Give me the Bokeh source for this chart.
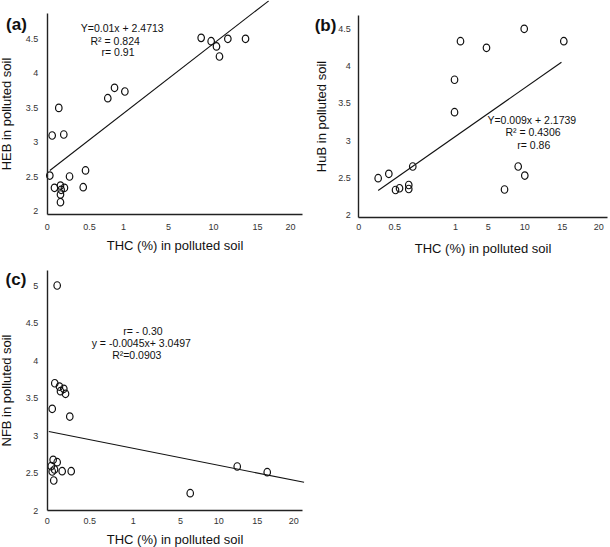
import numpy as np
from bokeh.plotting import figure
from bokeh.models import FixedTicker, CustomJSTickFormatter, Label, Range1d
from bokeh.layouts import column, row
from bokeh.embed import file_html
from bokeh.resources import INLINE

# ---------------- data ----------------
TICK_VALUES = [0, 0.5, 1, 5, 10, 15, 20]
TICK_LABELS = ["0", "0.5", "1", "5", "10", "15", "20"]
Y_TICKS_AB = [2, 2.5, 3, 3.5, 4, 4.5]
Y_TICKS_C = [2, 2.5, 3, 3.5, 4, 4.5, 5]

# (a) HEB vs THC
A_THC = [0.031, 0.059, 0.137, 0.196, 0.086, 0.157, 0.165, 0.204, 0.157, 0.157, 0.264,
         0.426, 0.453, 0.769, 0.868, 1.12, 8.63, 9.74, 10.34, 10.68, 11.63, 13.64]
A_HEB = [2.52, 3.10, 3.50, 3.115, 2.343, 2.376, 2.314, 2.343, 2.246, 2.135, 2.507,
         2.352, 2.594, 3.640, 3.791, 3.737, 4.514, 4.465, 4.389, 4.244, 4.500, 4.500]
A_FIT_THC = [0.031, 16.7]
A_FIT_Y = [2.594, 5.05]

# (b) HuB vs THC
B_THC = [0.269, 0.417, 0.506, 0.539, 0.615, 0.615, 0.648, 0.992, 0.992, 1.61, 4.79,
         7.23, 9.10, 10.0, 9.92, 15.22]
B_HUB = [2.499, 2.558, 2.341, 2.365, 2.408, 2.355, 2.656, 3.383, 3.817, 4.333, 4.245,
         2.348, 2.656, 2.535, 4.499, 4.333]
B_FIT_THC = [0.269, 14.9]
B_FIT_Y = [2.335, 4.052]

# (c) NFB vs THC
C_THC = [0.117, 0.089, 0.144, 0.156, 0.195, 0.215, 0.059, 0.265, 0.070, 0.117, 0.047,
         0.086, 0.059, 0.176, 0.282, 0.077, 6.27, 12.40, 16.37]
C_NFB = [5.0, 3.697, 3.653, 3.591, 3.623, 3.556, 3.356, 3.253, 2.676, 2.644, 2.591,
         2.547, 2.52, 2.524, 2.524, 2.40, 2.231, 2.587, 2.511]
C_FIT_THC = [0.019, 21.4]
C_FIT_Y = [3.053, 2.376]

# ---------------- layout / style ----------------
FONT = "Liberation Sans"
# on-screen positions of the (non-linear) THC ticks along each x axis
POS_A = [0, 42.3, 76.3, 121.3, 166.3, 210.3, 243.3]
POS_B = [0, 36, 96.7, 129.4, 166, 203.4, 240]
POS_C = [0, 42.6, 86, 133.3, 171.6, 210, 246.6]


def to_axis(vals, pos):
    v = np.asarray(vals, dtype=float)
    out = np.interp(v, TICK_VALUES, pos)
    slope = (pos[-1] - pos[-2]) / (TICK_VALUES[-1] - TICK_VALUES[-2])
    over = v > TICK_VALUES[-1]
    out[over] = pos[-1] + (v[over] - TICK_VALUES[-1]) * slope
    return out


def panel(width, height, x_range, y_range, x_axis_end, y_min, y_top, pos, y_ticks,
          ylabel, x_standoff, x_als, y_standoff, y_als):
    p = figure(width=width, height=height, output_backend="svg", toolbar_location=None,
               x_range=Range1d(*x_range), y_range=Range1d(*y_range), min_border=0)
    p.outline_line_color = None
    p.grid.visible = False
    p.background_fill_color = "white"
    p.border_fill_color = "white"

    xa = p.xaxis[0]
    xa.fixed_location = y_min
    xa.bounds = (0, x_axis_end)
    xa.ticker = FixedTicker(ticks=list(pos))
    xa.formatter = CustomJSTickFormatter(args=dict(pos=list(pos), lab=TICK_LABELS), code="""
        let best = 0, d = 1e9;
        for (let i = 0; i < pos.length; i++) {
            const e = Math.abs(pos[i] - tick);
            if (e < d) { d = e; best = i; }
        }
        return lab[best];
    """)
    xa.axis_label = "THC (%) in polluted soil"
    xa.major_label_standoff = x_standoff
    xa.axis_label_standoff = x_als

    ya = p.yaxis[0]
    ya.fixed_location = 0
    ya.bounds = (y_min, y_top)
    ya.ticker = FixedTicker(ticks=y_ticks)
    ya.formatter = CustomJSTickFormatter(code="return String(tick);")
    ya.axis_label = ylabel
    ya.major_label_standoff = y_standoff
    ya.axis_label_standoff = y_als

    for ax in (xa, ya):
        ax.major_tick_in = 0
        ax.major_tick_out = 0
        ax.minor_tick_in = 0
        ax.minor_tick_out = 0
        ax.axis_line_color = "#222222"
        ax.axis_line_width = 1.4
        ax.major_label_text_font = FONT
        ax.major_label_text_font_size = "9px"
        ax.major_label_text_color = "#333333"
        ax.axis_label_text_font = FONT
        ax.axis_label_text_font_size = "13px"
        ax.axis_label_text_font_style = "normal"
        ax.axis_label_text_color = "#111111"
    return p


def add_points(p, thc, yv, pos):
    p.ellipse(x=to_axis(thc, pos), y=yv, width=6.5, height=7.5,
              width_units="screen", height_units="screen",
              fill_color=None, line_color="#111111", line_width=1.2)


def add_fit(p, thc, yv, pos):
    p.line(x=to_axis(thc, pos), y=yv, line_color="#111111", line_width=1.1)


def add_text(p, x, y, text, size="10.5px", bold=False):
    p.add_layout(Label(x=x, y=y, text=text, text_align="center", text_baseline="middle",
                       text_font=FONT, text_font_size=size,
                       text_font_style="bold" if bold else "normal",
                       text_color="#111111"))


# (a)
pa = panel(305, 262, (-46.7, 258.3), (1.2617, 5.0545), 255.3, 1.957, 4.87, POS_A,
           Y_TICKS_AB, "HEB in polluted soil", 10, 4, 9, 9)
add_fit(pa, A_FIT_THC, A_FIT_Y, POS_A)
add_points(pa, A_THC, A_HEB, POS_A)
add_text(pa, -30.7, 4.707, "(a)", size="17px", bold=True)
add_text(pa, 75.0, 4.659, "Y=0.01x + 2.4713")
add_text(pa, 68.0, 4.475, "R² = 0.824")
add_text(pa, 70.8, 4.306, "r= 0.91")

# (b)
pb = panel(305, 262, (-53.3, 251.7), (1.3708, 4.878), 248.4, 1.977, 4.677, POS_B,
           Y_TICKS_AB, "HuB in polluted soil", 7, 7, 8, 6)
add_fit(pb, B_FIT_THC, B_FIT_Y, POS_B)
add_points(pb, B_THC, B_HUB, POS_B)
add_text(pb, -33.3, 4.543, "(b)", size="17px", bold=True)
add_text(pb, 173.0, 3.281, "Y=0.009x + 2.1739")
add_text(pb, 174.2, 3.124, "R² = 0.4306")
add_text(pb, 175.0, 2.950, "r= 0.86")

# (c)
pc = panel(305, 285, (-46.7, 258.3), (1.5067, 5.3067), 255.0, 2.0, 5.2, POS_C,
           Y_TICKS_C, "NFB in polluted soil", 7, 5, 9, 9)
add_fit(pc, C_FIT_THC, C_FIT_Y, POS_C)
add_points(pc, C_THC, C_NFB, POS_C)
add_text(pc, -31.2, 5.084, "(c)", size="17px", bold=True)
add_text(pc, 95.8, 4.387, "r= - 0.30")
add_text(pc, 94.1, 4.231, "y = -0.0045x+ 3.0497")
add_text(pc, 89.6, 4.08, "R²=0.0903")

layout = column(row(pa, pb), pc)
open("out.html", "w").write(file_html(layout, INLINE))
